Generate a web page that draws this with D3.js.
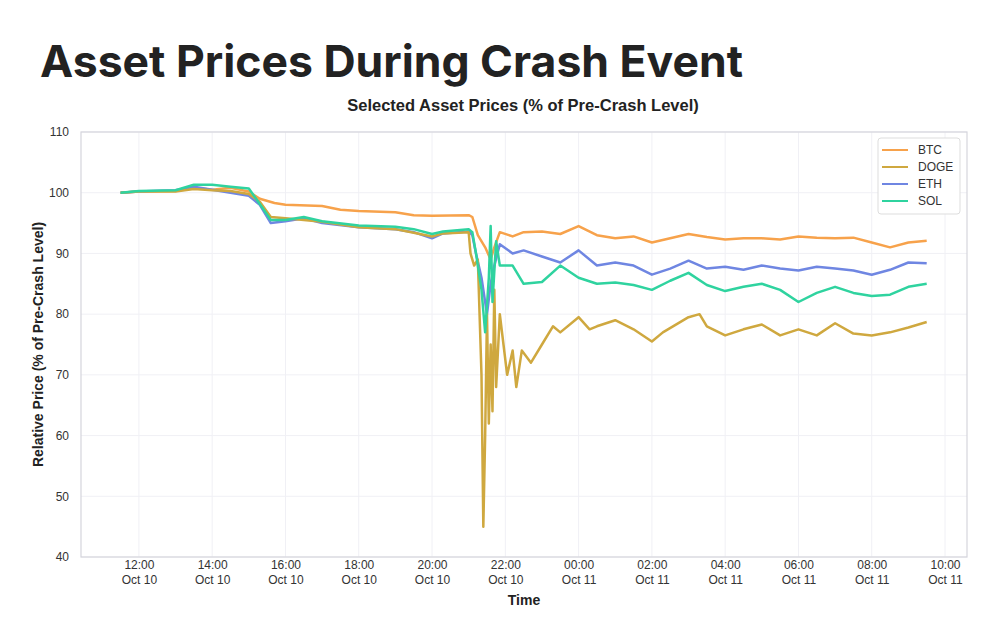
<!DOCTYPE html>
<html><head><meta charset="utf-8">
<script src="https://cdn.jsdelivr.net/npm/d3@7/dist/d3.min.js"></script>
<style>body{margin:0;background:#fff}svg{display:block}</style>
</head><body><svg id="c" width="1000" height="642"></svg>
<script>
// hours since Oct 10 00:00, value %
const btc=[[11.5,100],[12,100.2],[13,100.3],[13.5,100.8],[14,100.5],[14.5,100.8],[15,100.2],[15.3,99],[15.7,98.3],[16,98],[17,97.8],[17.5,97.2],[18,97],[19,96.8],[19.5,96.3],[20,96.2],[21,96.3],[21.1,96],[21.25,93],[21.45,91],[21.6,89],[21.7,91],[21.85,93.5],[22.2,92.8],[22.5,93.5],[23,93.6],[23.5,93.2],[24,94.5],[24.5,93],[25,92.5],[25.5,92.8],[26,91.8],[26.5,92.5],[27,93.2],[27.5,92.7],[28,92.3],[28.5,92.5],[29,92.5],[29.5,92.3],[30,92.8],[30.5,92.6],[31,92.5],[31.5,92.6],[32,91.8],[32.5,91],[33,91.8],[33.5,92.1]];
const doge=[[11.5,100],[12,100.2],[13,100.2],[13.5,100.6],[14,100.4],[14.5,100.3],[15,99.8],[15.3,98.5],[15.6,96],[16,95.8],[17,95.2],[18,94.3],[19,94],[19.5,93.4],[20,92.8],[20.3,93.3],[21,93.5],[21.05,90],[21.15,88],[21.25,89],[21.35,70],[21.4,45],[21.45,60],[21.5,80],[21.55,62],[21.6,75],[21.65,64],[21.7,84],[21.75,68],[21.85,80],[21.95,75],[22.05,70],[22.2,74],[22.3,68],[22.45,74],[22.7,72],[23,75],[23.3,78],[23.5,77],[24,79.5],[24.3,77.5],[24.5,78],[25,79],[25.5,77.5],[26,75.5],[26.3,77],[27,79.5],[27.3,80],[27.5,78],[28,76.5],[28.5,77.5],[29,78.3],[29.5,76.5],[30,77.5],[30.5,76.5],[31,78.5],[31.5,76.8],[32,76.5],[32.5,77],[33,77.8],[33.5,78.7]];
const eth=[[11.5,100],[12,100.2],[13,100.4],[13.5,101],[14,100.5],[14.5,100],[15,99.5],[15.3,98],[15.6,95],[16,95.3],[16.5,95.8],[17,95],[18,94.3],[19,94],[19.5,93.5],[20,92.5],[20.3,93.3],[21,93.6],[21.1,93],[21.2,90],[21.35,86],[21.5,80],[21.6,85],[21.7,88],[21.85,91.5],[22.2,90],[22.5,90.5],[23,89.5],[23.5,88.5],[24,90.5],[24.5,88],[25,88.5],[25.5,88],[26,86.5],[26.5,87.5],[27,88.8],[27.5,87.5],[28,87.8],[28.5,87.3],[29,88],[29.5,87.5],[30,87.2],[30.5,87.8],[31,87.5],[31.5,87.2],[32,86.5],[32.5,87.3],[33,88.5],[33.5,88.4]];
const sol=[[11.5,100],[12,100.3],[13,100.4],[13.5,101.3],[14,101.3],[14.5,101],[15,100.7],[15.2,99],[15.6,95.5],[16,95.5],[16.5,96],[17,95.3],[18,94.6],[19,94.4],[19.5,94],[20,93.2],[20.3,93.6],[21,94],[21.1,93.5],[21.2,90],[21.35,84],[21.45,77],[21.55,86],[21.6,94.5],[21.65,82],[21.75,92],[21.85,88],[22.2,88],[22.5,85],[23,85.3],[23.5,88],[24,86],[24.5,85],[25,85.2],[25.5,84.8],[26,84],[26.5,85.5],[27,86.8],[27.5,84.8],[28,83.8],[28.5,84.5],[29,85],[29.5,84],[30,82],[30.5,83.5],[31,84.5],[31.5,83.5],[32,83],[32.5,83.2],[33,84.5],[33.5,85]];
const seriesNames=["BTC","DOGE","ETH","SOL"];
const seriesColors=["#f7a24b","#cfa83f","#6f86e2","#2fd39f"];
const yTicks=[40,50,60,70,80,90,100,110];
const xTickHours=[12,14,16,18,20,22,24,26,28,30,32,34];

const svg=d3.select("#c");
const base=new Date(2024,9,10,0,0);
const toDate=h=>new Date(base.getTime()+h*3600e3);
const L=81,R=967,T=132,B=557;
const x=d3.scaleTime().domain([toDate(10.42),toDate(34.6)]).range([L,R]);
const y=d3.scaleLinear().domain([40,110]).range([B,T]);

svg.append("text").attr("x",40).attr("y",77).attr("font-family","Inter, sans-serif").attr("font-weight",700).attr("font-size",44.5).attr("fill","#222").text("Asset Prices During Crash Event");
svg.append("text").attr("x",523).attr("y",111).attr("text-anchor","middle").attr("font-family","Liberation Sans, Arial, sans-serif").attr("font-weight",700).attr("font-size",16.5).attr("fill","#222").text("Selected Asset Prices (% of Pre-Crash Level)");

const g=svg.append("g");
g.selectAll(".gy").data(yTicks).join("line").attr("x1",L).attr("x2",R).attr("y1",d=>y(d)).attr("y2",d=>y(d)).attr("stroke","#f0f0f5");
g.selectAll(".gx").data(xTickHours).join("line").attr("x1",d=>x(toDate(d))).attr("x2",d=>x(toDate(d))).attr("y1",T).attr("y2",B).attr("stroke","#f0f0f5");
g.append("rect").attr("x",L).attr("y",T).attr("width",R-L).attr("height",B-T).attr("fill","none").attr("stroke","#d5d5dc").attr("stroke-width",1.2);

const yAxis=d3.axisLeft(y).tickValues(yTicks).tickSize(0).tickPadding(12);
const ya=svg.append("g").attr("transform",`translate(${L},0)`).call(yAxis);
ya.select(".domain").remove();
ya.selectAll("text").attr("font-family","Liberation Sans, Arial, sans-serif").attr("font-size",12).attr("fill","#333");

const xAxis=d3.axisBottom(x).tickValues(xTickHours.map(toDate)).tickSize(0).tickPadding(10).tickFormat(()=> "");
const xa=svg.append("g").attr("transform",`translate(0,${B})`).call(xAxis);
xa.select(".domain").remove();
xa.selectAll(".tick text").each(function(d){
  const t=d3.select(this);
  t.attr("font-family","Liberation Sans, Arial, sans-serif").attr("font-size",12).attr("fill","#333");
  t.append("tspan").attr("x",0).attr("dy","0.2em").text(d3.timeFormat("%H:%M")(d));
  t.append("tspan").attr("x",0).attr("dy","1.2em").text(d3.timeFormat("%b %-d")(d));
});
svg.append("text").attr("x",(L+R)/2).attr("y",605).attr("text-anchor","middle").attr("font-family","Liberation Sans, Arial, sans-serif").attr("font-weight",700).attr("font-size",14).attr("fill","#222").text("Time");
svg.append("text").attr("transform",`translate(43,${(T+B)/2}) rotate(-90)`).attr("text-anchor","middle").attr("font-family","Liberation Sans, Arial, sans-serif").attr("font-weight",700).attr("font-size",14).attr("fill","#222").text("Relative Price (% of Pre-Crash Level)");

const line=d3.line().x(d=>x(toDate(d[0]))).y(d=>y(d[1]));
const data=[btc,doge,eth,sol];
[0,2,1,3].forEach(i=>{
  g.append("path").attr("d",line(data[i])).attr("fill","none").attr("stroke",seriesColors[i]).attr("stroke-width",2.5).attr("stroke-linejoin","round");
});

const lg=svg.append("g").attr("transform","translate(878,138)");
lg.append("rect").attr("width",82).attr("height",76).attr("rx",3).attr("fill","#fff").attr("stroke","#ddd");
seriesNames.forEach((n,i)=>{
  const yy=12+i*17;
  lg.append("line").attr("x1",4).attr("x2",30).attr("y1",yy).attr("y2",yy).attr("stroke",seriesColors[i]).attr("stroke-width",2);
  lg.append("text").attr("x",40).attr("y",yy+4).attr("font-family","Liberation Sans, Arial, sans-serif").attr("font-size",12).attr("fill","#333").text(n);
});
</script></body></html>
